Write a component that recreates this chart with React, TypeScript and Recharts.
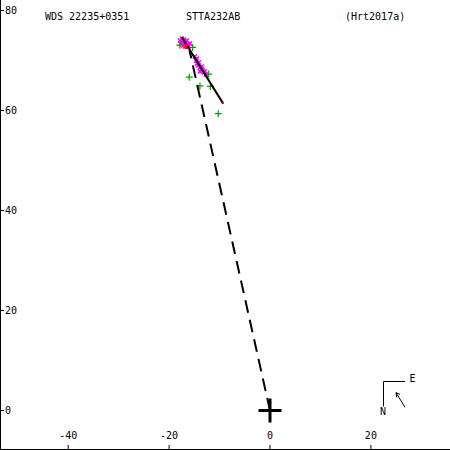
import { Scatter, ScatterChart, XAxis, YAxis } from "recharts";

const X_DOMAIN: [number, number] = [-53.52, 35.68];
const Y_DOMAIN: [number, number] = [-7.9, 82.1];
const X_TICKS = [-40, -20, 0, 20];
const Y_TICKS = [0, 20, 40, 60, 80];

const TITLE_WDS = "WDS 22235+0351";
const TITLE_PAIR = "STTA232AB";
const TITLE_REF = "(Hrt2017a)";

// orbit arc (solid) and line to periastron (dashed)
const ORBIT_ARC = [
  { x: -17.5, y: 74.7 },
  { x: -9.27, y: 61.37 },
];
const NODE_LINE = [
  { x: 0, y: 0 },
  { x: -15.95, y: 72.0 },
];
const ORBIT_END = [{ x: -9.38, y: 61.56 }];
const RED_MARK = [{ x: -16.65, y: 72.8 }];
const ORIGIN = [{ x: 0, y: 0 }];

// speckle measurements
const SPECKLE = [
  { x: -17.86, y: 74.01 },
  { x: -17.46, y: 74.41 },
  { x: -17.26, y: 73.61 },
  { x: -17.06, y: 74.21 },
  { x: -16.87, y: 73.81 },
  { x: -16.67, y: 73.41 },
  { x: -17.26, y: 73.01 },
  { x: -16.47, y: 74.01 },
  { x: -16.27, y: 73.21 },
  { x: -16.07, y: 72.81 },
  { x: -15.87, y: 73.41 },
  { x: -17.66, y: 73.41 },
  { x: -16.87, y: 72.81 },
  { x: -14.88, y: 70.81 },
  { x: -14.68, y: 70.01 },
  { x: -14.48, y: 69.41 },
  { x: -14.09, y: 69.61 },
  { x: -14.29, y: 69.01 },
  { x: -13.89, y: 68.61 },
  { x: -13.69, y: 68.21 },
  { x: -13.49, y: 68.81 },
  { x: -13.29, y: 68.01 },
  { x: -13.1, y: 67.61 },
  { x: -12.9, y: 67.81 },
  { x: -12.7, y: 67.21 },
  { x: -13.89, y: 67.81 },
  { x: -14.48, y: 70.41 },
];

// visual / micrometer measurements
const VISUAL = [
  { x: -17.86, y: 73.07 },
  { x: -15.34, y: 72.61 },
  { x: -16.01, y: 66.66 },
  { x: -13.89, y: 64.92 },
  { x: -12.16, y: 67.28 },
  { x: -11.81, y: 64.82 },
  { x: -10.26, y: 59.37 },
];

const COMPASS = [{ x: 22.5, y: 5.8 }];

const FONT = "'DejaVu Sans Mono', monospace";
const tickStyle = { fill: "#000", fontSize: 10, fontFamily: FONT };

const none = () => <g />;

const plusShape = (p: any) => (
  <path
    d={`M${p.cx - 3.5},${p.cy}H${p.cx + 3.5}M${p.cx},${p.cy - 3.5}V${p.cy + 3.5}`}
    stroke="#00a000"
    strokeWidth={1.2}
    fill="none"
  />
);

const crossShape = (p: any) => (
  <path
    d={`M${p.cx - 2},${p.cy - 2}L${p.cx + 2},${p.cy + 2}M${p.cx + 2},${p.cy - 2}L${p.cx - 2},${p.cy + 2}`}
    stroke="#ff00ff"
    strokeWidth={1.5}
    fill="none"
  />
);

const originShape = (p: any) => (
  <path
    d={`M${p.cx - 11.5},${p.cy}H${p.cx + 11.5}M${p.cx},${p.cy - 12}V${p.cy + 12}`}
    stroke="#000"
    strokeWidth={3}
    fill="none"
  />
);

const redRect = (p: any) => (
  <rect x={p.cx - 1.5} y={p.cy - 2.5} width={3} height={5} fill="#ff0000" />
);

const redDot = (p: any) => (
  <rect x={p.cx - 1} y={p.cy - 1} width={2} height={2} fill="#ff0000" />
);

const compassShape = (p: any) => {
  const { cx, cy } = p;
  return (
    <g>
      <path
        d={`M${cx + 21.5},${cy}H${cx}V${cy + 25}`}
        stroke="#000"
        strokeWidth={1}
        fill="none"
      />
      <path
        d={`M${cx + 21.5},${cy + 25.8}L${cx + 12.5},${cy + 11.2}M${cx + 12.5},${cy + 11.2}L${cx + 16.5},${cy + 12.8}M${cx + 12.5},${cy + 11.2}L${cx + 13.2},${cy + 15.8}`}
        stroke="#000"
        strokeWidth={1}
        fill="none"
      />
      <text x={cx + 26} y={cy + 0.5} fontSize={10} fontFamily={FONT} fill="#000">
        E
      </text>
      <text x={cx - 3.5} y={cy + 33.5} fontSize={10} fontFamily={FONT} fill="#000">
        N
      </text>
    </g>
  );
};

export default function App() {
  return (
    <div style={{ position: "absolute", left: 0, top: 0, width: 450, height: 450, background: "#fff" }}>
      <ScatterChart width={450} height={450} margin={{ top: 0, right: 0, bottom: 0, left: 0 }}>
        <XAxis
          xAxisId="b"
          type="number"
          dataKey="x"
          domain={X_DOMAIN}
          allowDataOverflow
          ticks={X_TICKS}
          orientation="bottom"
          mirror
          tickSize={5}
          tickMargin={6}
          tick={tickStyle}
          axisLine={{ stroke: "#000", strokeWidth: 2 }}
          tickLine={{ stroke: "#000" }}
        />
        <XAxis
          xAxisId="t"
          type="number"
          dataKey="x"
          domain={X_DOMAIN}
          allowDataOverflow
          ticks={X_TICKS}
          orientation="top"
          mirror
          tickSize={4}
          tick={false}
          axisLine={false}
          tickLine={{ stroke: "#000" }}
        />
        <YAxis
          yAxisId="l"
          type="number"
          dataKey="y"
          domain={Y_DOMAIN}
          allowDataOverflow
          ticks={Y_TICKS}
          orientation="left"
          mirror
          tickSize={4}
          tickMargin={1}
          tick={tickStyle}
          axisLine={{ stroke: "#000", strokeWidth: 2 }}
          tickLine={{ stroke: "#000" }}
        />
        <YAxis
          yAxisId="r"
          type="number"
          dataKey="y"
          domain={Y_DOMAIN}
          allowDataOverflow
          ticks={Y_TICKS}
          orientation="right"
          mirror
          tickSize={3}
          tick={false}
          axisLine={false}
          tickLine={{ stroke: "#000" }}
        />

        <Scatter xAxisId="b" yAxisId="l" data={SPECKLE} shape={crossShape} isAnimationActive={false} />
        <Scatter xAxisId="b" yAxisId="l" data={VISUAL} shape={plusShape} isAnimationActive={false} />
        <Scatter
          xAxisId="b"
          yAxisId="l"
          data={NODE_LINE}
          shape={none}
          line={{ stroke: "#000", strokeWidth: 2, strokeDasharray: "12.8 7.25" }}
          isAnimationActive={false}
        />
        <Scatter
          xAxisId="b"
          yAxisId="l"
          data={ORBIT_ARC}
          shape={none}
          line={{ stroke: "#000", strokeWidth: 2 }}
          isAnimationActive={false}
        />
        <Scatter xAxisId="b" yAxisId="l" data={RED_MARK} shape={redRect} isAnimationActive={false} />
        <Scatter xAxisId="b" yAxisId="l" data={ORBIT_END} shape={redDot} isAnimationActive={false} />
        <Scatter xAxisId="b" yAxisId="l" data={ORIGIN} shape={originShape} isAnimationActive={false} />
        <Scatter xAxisId="t" yAxisId="r" data={COMPASS} shape={compassShape} isAnimationActive={false} />
      </ScatterChart>
      <svg
        width={450}
        height={450}
        style={{ position: "absolute", left: 0, top: 0, pointerEvents: "none" }}
      >
        <g fontFamily={FONT} fontSize={10} fill="#000">
          <text x={45} y={20}>{TITLE_WDS}</text>
          <text x={186} y={20}>{TITLE_PAIR}</text>
          <text x={345} y={20}>{TITLE_REF}</text>
        </g>
      </svg>
    </div>
  );
}
